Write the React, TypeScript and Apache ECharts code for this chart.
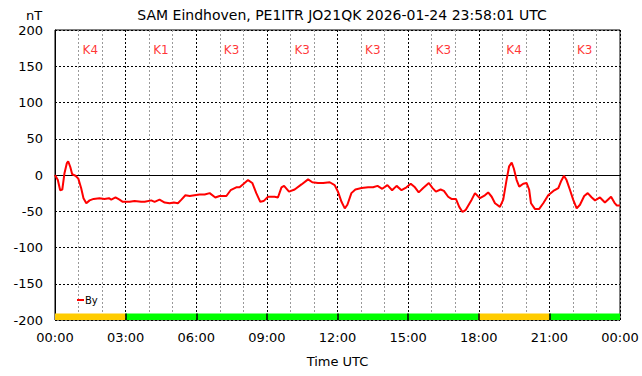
import React, { useEffect, useRef } from "react";
import * as echarts from "echarts";

const titleText = "SAM Eindhoven, PE1ITR JO21QK 2026-01-24 23:58:01 UTC";
const seriesName = "By";

// time in hours (UTC) and By values in nT
const hours = [
  0.0, 0.12, 0.22, 0.31, 0.4, 0.5, 0.56, 0.65, 0.73, 0.87, 0.99, 1.11, 1.21, 1.33, 1.47, 1.64, 1.89, 2.1, 2.29, 2.39,
  2.57, 2.74, 2.88, 3.17, 3.38, 3.66, 3.81, 4.09, 4.23, 4.44, 4.66, 4.87, 5.05, 5.22, 5.37, 5.54, 5.72, 5.93, 6.14,
  6.36, 6.57, 6.81, 6.99, 7.28, 7.46, 7.7, 7.84, 7.98, 8.2, 8.38, 8.55, 8.72, 8.86, 9.05, 9.33, 9.47, 9.62, 9.73, 9.94,
  10.18, 10.47, 10.75, 10.93, 11.17, 11.39, 11.67, 11.88, 12.02, 12.17, 12.31, 12.42, 12.59, 12.76, 13.02, 13.3,
  13.51, 13.7, 13.9, 14.12, 14.32, 14.51, 14.72, 14.93, 15.11, 15.29, 15.45, 15.64, 15.88, 16.04, 16.18, 16.38,
  16.52, 16.7, 16.84, 17.03, 17.17, 17.31, 17.45, 17.7, 17.84, 18.05, 18.26, 18.4, 18.55, 18.69, 18.9, 19.04, 19.18,
  19.29, 19.4, 19.49, 19.61, 19.72, 19.89, 20.03, 20.14, 20.22, 20.39, 20.56, 20.74, 20.95, 21.17, 21.38, 21.49,
  21.62, 21.73, 21.88, 22.01, 22.16, 22.3, 22.48, 22.63, 22.8, 22.94, 23.15, 23.36, 23.62, 23.76, 23.86, 24.0,
];
const byValues = [
  0, -7, -21, -20, 2, 16, 19, 11, 1, -1, -5, -18, -32, -39, -35, -33, -32, -33, -32, -34,
  -31, -34, -37, -37, -36, -37, -37, -35, -37, -34, -38, -39, -38, -39, -34, -28, -29, -28, -27,
  -27, -25, -31, -29, -29, -21, -17, -17, -13, -7, -11, -25, -37, -36, -30, -30, -31, -17, -15, -23,
  -20, -13, -6, -10, -11, -11, -10, -14, -23, -37, -46, -41, -25, -20, -18, -17,
  -17, -15, -19, -14, -21, -15, -21, -17, -12, -17, -24, -18, -11, -18, -23, -20,
  -22, -30, -33, -33, -44, -51, -48, -34, -25, -32, -28, -24, -30, -39, -44, -34, -7,
  12, 17, 9, -7, -16, -12, -11, -20, -39, -47, -47, -39, -28, -22, -18, -9,
  -1, -7, -21, -34, -46, -41, -29, -25, -31, -35, -31, -38, -30, -38, -42, -42,
];

// K index per 3-hour block
const kBlockStart = [0, 3, 6, 9, 12, 15, 18, 21];
const kLabels = ["K4", "K1", "K3", "K3", "K3", "K3", "K4", "K3"];
const kValues = [4, 1, 3, 3, 3, 3, 4, 3];

const yTicks = { min: -200, max: 200, interval: 50 };
const kLabelLevel = 172;
const bandTop = -191;

function fmtHour(v: number): string {
  const h = Math.round(v) % 24;
  return (h < 10 ? "0" : "") + h + ":00";
}

export default function App() {
  const ref = useRef<HTMLDivElement>(null);
  useEffect(() => {
    if (!ref.current) return;
    const chart = echarts.init(ref.current, null, { renderer: "svg" });
    const font = "DejaVu Sans";
    const lineData = hours.map((h, i) => [h, byValues[i]]);
    const kData = kBlockStart.map((s, i) => ({ value: [s + 1.5, kLabelLevel], name: kLabels[i] }));
    const bands = kBlockStart.map((s, i) => [
      { xAxis: s, yAxis: yTicks.min, itemStyle: { color: kValues[i] >= 4 ? "#ffcc00" : "#00ff00" } },
      { xAxis: s + 3, yAxis: bandTop },
    ]);
    const separators = kBlockStart
      .filter((s) => s > 0)
      .map((s) => [
        { coord: [s, yTicks.min] },
        { coord: [s, bandTop] },
      ]);
    chart.setOption({
      animation: false,
      textStyle: { fontFamily: font },
      title: {
        text: titleText,
        left: 337,
        textAlign: "center",
        top: 3,
        textStyle: { fontFamily: font, fontSize: 14, fontWeight: "normal", color: "#000" },
      },
      graphic: [
        {
          type: "text",
          left: 26,
          top: 9,
          style: { text: "nT", fontFamily: font, fontSize: 13, fill: "#000" },
        },
      ],
      legend: {
        data: [seriesName],
        left: 72,
        top: 290,
        icon: "rect",
        itemWidth: 7,
        itemHeight: 2,
        textStyle: { fontFamily: font, fontSize: 10, color: "#000", padding: [0, 0, 0, -4] },
      },
      grid: {
        left: 55,
        right: 22,
        top: 30,
        bottom: 56,
        show: true,
        borderColor: "#000",
        borderWidth: 1,
      },
      xAxis: {
        type: "value",
        min: 0,
        max: 24,
        interval: 3,
        name: "Time UTC",
        nameLocation: "middle",
        nameGap: 35,
        nameTextStyle: { fontFamily: font, fontSize: 13, color: "#000" },
        axisLine: { show: true, lineStyle: { color: "#000", width: 1 } },
        axisTick: { show: false },
        axisLabel: { fontFamily: font, fontSize: 13, color: "#000", margin: 11, formatter: fmtHour },
        splitLine: { show: true, lineStyle: { color: "#000", type: [2, 2], width: 1 } },
        minorTick: { show: false, splitNumber: 3 },
        minorSplitLine: { show: true, lineStyle: { color: "#999", type: [2, 2], width: 1 } },
      },
      yAxis: {
        type: "value",
        min: yTicks.min,
        max: yTicks.max,
        interval: yTicks.interval,
        axisLine: { show: true, lineStyle: { color: "#000", width: 1 } },
        axisTick: { show: false },
        axisLabel: { fontFamily: font, fontSize: 13, color: "#000", margin: 12 },
        splitLine: { show: true, lineStyle: { color: "#000", type: [2, 2], width: 1 } },
      },
      series: [
        {
          name: seriesName,
          type: "line",
          data: lineData,
          showSymbol: false,
          symbol: "none",
          lineStyle: { color: "#ff0000", width: 2 },
          itemStyle: { color: "#ff0000" },
          z: 5,
          markArea: { silent: true, data: bands },
          markLine: {
            silent: true,
            symbol: "none",
            label: { show: false },
            lineStyle: { color: "#000", type: "solid", width: 1.5 },
            data: separators,
          },
        },
        {
          name: "K",
          type: "scatter",
          data: kData,
          symbolSize: 0,
          silent: true,
          label: {
            show: true,
            position: "inside",
            formatter: (p: any) => p.name,
            color: "#ff0000",
            fontFamily: font,
            fontSize: 12,
          },
        },
      ],
    });
    return () => chart.dispose();
  }, []);
  return <div ref={ref} style={{ width: 642, height: 376, position: "absolute", left: 0, top: 0 }} />;
}
